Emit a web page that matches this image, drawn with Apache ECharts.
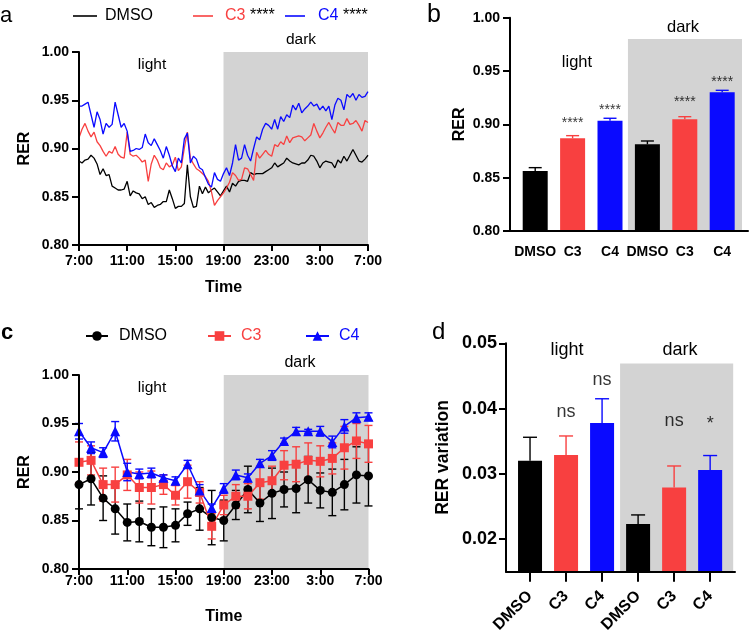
<!DOCTYPE html>
<html><head><meta charset="utf-8">
<script src="https://cdn.jsdelivr.net/npm/echarts@6/dist/echarts.min.js"></script>
<style>html,body{margin:0;padding:0;background:#fff}#chart{width:749px;height:639px}</style>
</head><body><div id="chart"></div>
<script>
// ---------- DATA ----------
const timeTickLabels = ['7:00','11:00','15:00','19:00','23:00','3:00','7:00'];
// panel a: 15-min samples from 7:00 to 7:00 (hours since 7:00)
const timesA = Array.from({length: 97}, (_, i) => i * 0.25);
const dmsoA = [0.887,0.885,0.888,0.889,0.893,0.890,0.884,0.873,0.879,0.872,
0.873,0.861,0.859,0.857,0.857,0.858,0.866,0.851,0.856,0.854,
0.853,0.848,0.850,0.842,0.844,0.839,0.841,0.842,0.845,0.845,
0.857,0.848,0.838,0.840,0.840,0.843,0.883,0.850,0.839,0.840,
0.861,0.853,0.860,0.854,0.857,0.859,0.855,0.851,0.856,0.861,
0.855,0.864,0.861,0.866,0.867,0.867,0.866,0.875,0.873,0.874,
0.874,0.874,0.876,0.878,0.880,0.885,0.881,0.883,0.885,0.890,
0.887,0.885,0.884,0.883,0.885,0.885,0.888,0.893,0.892,0.887,
0.880,0.885,0.887,0.886,0.885,0.880,0.888,0.885,0.892,0.887,
0.893,0.899,0.893,0.887,0.886,0.889,0.893];
const c3A = [0.911,0.920,0.926,0.918,0.912,0.917,0.907,0.903,0.897,0.892,
0.897,0.895,0.902,0.894,0.891,0.890,0.917,0.894,0.892,0.893,
0.890,0.886,0.888,0.866,0.884,0.893,0.888,0.880,0.878,0.885,
0.881,0.883,0.891,0.877,0.881,0.901,0.917,0.890,0.884,0.879,
0.877,0.874,0.871,0.866,0.855,0.841,0.846,0.850,0.854,0.859,
0.865,0.875,0.872,0.867,0.868,0.880,0.879,0.873,0.867,0.896,
0.890,0.894,0.898,0.894,0.892,0.904,0.902,0.907,0.904,0.913,
0.906,0.911,0.912,0.913,0.912,0.908,0.911,0.914,0.926,0.918,
0.911,0.916,0.922,0.927,0.921,0.916,0.927,0.924,0.924,0.931,
0.925,0.926,0.929,0.924,0.918,0.929,0.927];
const c4A = [0.944,0.944,0.946,0.948,0.935,0.922,0.938,0.930,0.915,0.926,
0.922,0.925,0.948,0.935,0.922,0.926,0.918,0.897,0.898,0.900,
0.899,0.901,0.915,0.906,0.903,0.910,0.904,0.898,0.890,0.902,
0.893,0.882,0.876,0.890,0.885,0.910,0.916,0.885,0.892,0.889,
0.880,0.878,0.870,0.863,0.860,0.875,0.868,0.866,0.874,0.880,
0.872,0.885,0.904,0.888,0.890,0.904,0.893,0.887,0.900,0.912,
0.909,0.920,0.926,0.924,0.920,0.930,0.920,0.933,0.928,0.935,
0.932,0.945,0.940,0.947,0.937,0.941,0.944,0.948,0.944,0.946,
0.940,0.944,0.939,0.944,0.930,0.945,0.952,0.950,0.940,0.956,
0.953,0.957,0.950,0.956,0.953,0.954,0.959];

// panel b: mean RER and upper error (SEM)
const catsB = ['DMSO','C3','C4','DMSO','C3','C4'];
const meanB = [0.8563,0.8869,0.9034,0.8813,0.9047,0.9300];
const errB  = [0.0031,0.0025,0.0023,0.0031,0.0025,0.0019];
const sigB  = ['','****','****','','****','****'];
const sigPosB = [0,0.9013,0.9137,0,0.9205,0.9399];

// panel c: hourly means and SEM
const hoursC = [0,1,2,3,4,5,6,7,8,9,10,11,12,13,14,15,16,17,18,19,20,21,22,23,24];
const dmsoC = [0.887,0.893,0.873,0.862,0.848,0.849,0.843,0.843,0.845,0.857,0.862,0.853,0.850,0.866,0.882,0.868,0.878,0.882,0.883,0.892,0.881,0.879,0.887,0.897,0.896];
const dmsoCErr = [0.025,0.027,0.023,0.026,0.019,0.021,0.019,0.021,0.017,0.012,0.022,0.028,0.021,0.015,0.024,0.019,0.026,0.018,0.025,0.024,0.018,0.024,0.026,0.029,0.031];
const c3C = [0.910,0.912,0.887,0.887,0.897,0.884,0.884,0.887,0.876,0.890,0.879,0.844,0.866,0.875,0.875,0.889,0.891,0.907,0.908,0.912,0.911,0.914,0.925,0.932,0.929];
const c3CErr = [0.021,0.015,0.017,0.018,0.016,0.016,0.017,0.010,0.010,0.017,0.011,0.013,0.010,0.012,0.013,0.017,0.015,0.015,0.018,0.018,0.016,0.016,0.022,0.018,0.019];
const c4C = [0.942,0.925,0.920,0.942,0.900,0.898,0.899,0.894,0.891,0.908,0.881,0.863,0.883,0.897,0.894,0.909,0.917,0.932,0.942,0.942,0.942,0.931,0.947,0.956,0.957];
const c4CErr = [0.008,0.006,0.005,0.010,0.009,0.005,0.005,0.003,0.004,0.004,0.006,0.004,0.005,0.005,0.004,0.004,0.005,0.003,0.004,0.002,0.005,0.006,0.007,0.005,0.004];

// panel d: RER variation
const catsD = ['DMSO','C3','C4','DMSO','C3','C4'];
const meanD = [0.0320,0.0329,0.0378,0.0223,0.0279,0.0306];
const errD  = [0.0036,0.0029,0.0037,0.0014,0.0033,0.0022];
const sigD  = ['','ns','ns','','ns','*'];
const sigPosD = [0,0.0395,0.0444,0,0.0381,0.0376];

// ---------- STYLE ----------
const FONT = '"Liberation Sans", Arial, Helvetica, sans-serif';
const BLACK = '#000000', RED = '#f84040', BLUE = '#0a0aff', GRAY = '#d3d3d3';
const groupColors = [BLACK, RED, BLUE, BLACK, RED, BLUE];
const positions = [1,2,3,4,5,6];

const chart = echarts.init(document.getElementById('chart'), null, {renderer: 'canvas'});

function axisLineStyle() { return {show: true, lineStyle: {color: '#000', width: 2}}; }
function tickStyle(len) { return {show: true, length: len, lineStyle: {color: '#000', width: 2}}; }
function boldLabel(size, margin, extra) {
  return Object.assign({color: '#000', fontWeight: 'bold', fontSize: size, fontFamily: FONT, margin: margin}, extra || {});
}
function nameStyle(size) { return {color: '#000', fontWeight: 'bold', fontSize: size, fontFamily: FONT}; }

function timeAxis(gi, margin, nameGap) {
  return {
    gridIndex: gi, type: 'value', min: 0, max: 24, interval: 4, z: 10,
    axisLine: axisLineStyle(), axisTick: tickStyle(6),
    axisLabel: boldLabel(14, margin, {formatter: v => timeTickLabels[Math.round(v / 4)]}),
    splitLine: {show: false},
    name: 'Time', nameLocation: 'middle', nameGap: nameGap, nameTextStyle: nameStyle(16)
  };
}
function rerAxis(gi, nameGap) {
  return {
    gridIndex: gi, type: 'value', min: 0.8, max: 1.0, interval: 0.05, z: 10,
    axisLine: axisLineStyle(), axisTick: tickStyle(7),
    axisLabel: boldLabel(14, 10, {formatter: v => v.toFixed(2)}),
    splitLine: {show: false},
    name: 'RER', nameLocation: 'middle', nameGap: nameGap, nameTextStyle: nameStyle(16)
  };
}

function errRender(colorFn, capW, both) {
  return function (params, api) {
    const x = api.value(0), lo = api.value(1), hi = api.value(2);
    const p1 = api.coord([x, lo]), p2 = api.coord([x, hi]);
    const st = {stroke: colorFn(params.dataIndex), lineWidth: 1.4};
    const ch = [
      {type: 'line', shape: {x1: p1[0], y1: p1[1], x2: p2[0], y2: p2[1]}, style: st},
      {type: 'line', shape: {x1: p2[0] - capW / 2, y1: p2[1], x2: p2[0] + capW / 2, y2: p2[1]}, style: st}
    ];
    if (both) ch.push({type: 'line', shape: {x1: p1[0] - capW / 2, y1: p1[1], x2: p1[0] + capW / 2, y2: p1[1]}, style: st});
    return {type: 'group', children: ch};
  };
}

function legendItem(name, left, top, itemW, color, padLeft, rich, lineOnly) {
  const l = {
    left: left, top: top, orient: 'horizontal', padding: 0, itemWidth: itemW, itemHeight: lineOnly ? 1.6 : 12, itemGap: 0,
    data: [name], selectedMode: false,
    formatter: rich ? (n => n.trim() + ' {s|****}') : (n => n.trim()),
    textStyle: {color: color, fontSize: 16, fontFamily: FONT, padding: [0, 0, 0, padLeft],
      rich: {s: {color: '#000', fontSize: 16, fontFamily: FONT}}}
  };
  if (lineOnly) l.icon = 'rect';
  return l;
}

function txt(x, y, text, size, align, bold) {
  return {type: 'text', x: x, y: y, silent: true,
    style: {text: text, fill: '#000', font: (bold ? 'bold ' : '') + size + 'px ' + FONT,
      textAlign: align, align: align, textVerticalAlign: 'middle', verticalAlign: 'middle'}};
}

const option = {
  animation: false,
  backgroundColor: '#fff',
  grid: [
    {left: 79, top: 52, width: 289, height: 193, outerBoundsMode: 'none'},
    {left: 510, top: 17.7, width: 238, height: 213.3, outerBoundsMode: 'none'},
    {left: 79, top: 375, width: 289.5, height: 194, outerBoundsMode: 'none'},
    {left: 506, top: 343.3, width: 229, height: 228.4, outerBoundsMode: 'none'}
  ],
  xAxis: [
    timeAxis(0, 9, 35),
    {gridIndex: 1, type: 'value', min: 0.326, max: 6.69, z: 10,
      axisLine: axisLineStyle(), axisTick: {show: false},
      axisLabel: boldLabel(14, 14, {customValues: positions, formatter: v => catsB[Math.round(v) - 1]}),
      splitLine: {show: false}},
    timeAxis(2, 5, 40),
    {gridIndex: 3, type: 'value', min: 0.333, max: 6.69, z: 10,
      axisLine: axisLineStyle(), axisTick: Object.assign(tickStyle(10), {customValues: positions}),
      axisLabel: boldLabel(16, 22, {customValues: positions, rotate: 45, formatter: v => catsD[Math.round(v) - 1]}),
      splitLine: {show: false}}
  ],
  yAxis: [
    rerAxis(0, 46),
    rerAxis(1, 42),
    rerAxis(2, 46),
    {gridIndex: 3, type: 'value', min: 0.015, max: 0.05, z: 10,
      axisLine: axisLineStyle(), axisTick: Object.assign(tickStyle(7), {customValues: [0.02, 0.03, 0.04, 0.05]}),
      axisLabel: boldLabel(18, 9, {customValues: [0.02, 0.03, 0.04, 0.05], formatter: v => v.toFixed(2)}),
      splitLine: {show: false},
      name: 'RER variation', nameLocation: 'middle', nameGap: 54, nameTextStyle: nameStyle(17.5)}
  ],
  legend: [
    legendItem('DMSO', 73, 8, 24, BLACK, 3, false, true),
    legendItem('C3', 193, 8, 20, RED, 7, true, true),
    legendItem('C4', 285, 8, 20, BLUE, 8, true, true),
    legendItem('DMSO ', 85, 328, 22, BLACK, 6, false, false),
    legendItem('C3 ', 207, 328, 23, RED, 5, false, false),
    legendItem('C4 ', 305, 328, 23, BLUE, 5, false, false)
  ],
  graphic: [
    txt(0, 16, 'a', 22, 'left', false),
    txt(427, 15, 'b', 25, 'left', false),
    txt(1, 333, 'c', 22, 'left', true),
    txt(432, 332, 'd', 24, 'left', false),
    txt(152, 65, 'light', 15.5, 'center'),
    txt(301, 40, 'dark', 15.5, 'center'),
    txt(577, 62, 'light', 16.5, 'center'),
    txt(683, 27, 'dark', 16.5, 'center'),
    txt(152, 388, 'light', 15.5, 'center'),
    txt(300, 363, 'dark', 16, 'center'),
    txt(567, 350, 'light', 18, 'center'),
    txt(680, 350, 'dark', 18, 'center')
  ],
  series: [
    // ----- panel a -----
    {name: 'DMSO', type: 'line', xAxisIndex: 0, yAxisIndex: 0, symbol: 'none',
      data: timesA.map((t, i) => [t, dmsoA[i]]), color: BLACK, lineStyle: {color: BLACK, width: 1.3},
      markArea: {silent: true, itemStyle: {color: GRAY}, label: {show: false},
        data: [[{xAxis: 12, yAxis: 0.8}, {xAxis: 24, yAxis: 1.0}]]}},
    {name: 'C3', type: 'line', xAxisIndex: 0, yAxisIndex: 0, symbol: 'none',
      data: timesA.map((t, i) => [t, c3A[i]]), color: RED, lineStyle: {color: RED, width: 1.3}},
    {name: 'C4', type: 'line', xAxisIndex: 0, yAxisIndex: 0, symbol: 'none',
      data: timesA.map((t, i) => [t, c4A[i]]), color: BLUE, lineStyle: {color: BLUE, width: 1.3}},
    // ----- panel b -----
    {name: 'barsB', type: 'bar', xAxisIndex: 1, yAxisIndex: 1, barWidth: 25,
      data: meanB.map((v, i) => ({value: [positions[i], v], itemStyle: {color: groupColors[i]}})),
      markArea: {silent: true, itemStyle: {color: GRAY}, label: {show: false},
        data: [[{xAxis: 3.48, yAxis: 0.8}, {xAxis: 6.53, yAxis: 0.98}]]}},
    {name: 'errB', type: 'custom', xAxisIndex: 1, yAxisIndex: 1,
      renderItem: errRender(i => groupColors[i], 13, false),
      encode: {x: 0, y: [1, 2]},
      data: meanB.map((v, i) => [positions[i], v, v + errB[i]])},
    {name: 'sigB', type: 'scatter', xAxisIndex: 1, yAxisIndex: 1, symbolSize: 0, silent: true,
      data: sigB.map((s, i) => [positions[i], sigPosB[i], s]).filter(d => d[2]),
      label: {show: true, position: 'inside', formatter: p => p.data[2], color: '#000', fontSize: 14, fontFamily: FONT}},
    // ----- panel c -----
    {name: 'errDMSO', type: 'custom', xAxisIndex: 2, yAxisIndex: 2,
      renderItem: errRender(() => BLACK, 8, true), encode: {x: 0, y: [1, 2]},
      data: hoursC.map((h, i) => [h, dmsoC[i] - dmsoCErr[i], dmsoC[i] + dmsoCErr[i]])},
    {name: 'errC3', type: 'custom', xAxisIndex: 2, yAxisIndex: 2,
      renderItem: errRender(() => RED, 8, true), encode: {x: 0, y: [1, 2]},
      data: hoursC.map((h, i) => [h, c3C[i] - c3CErr[i], c3C[i] + c3CErr[i]])},
    {name: 'errC4', type: 'custom', xAxisIndex: 2, yAxisIndex: 2,
      renderItem: errRender(() => BLUE, 8, true), encode: {x: 0, y: [1, 2]},
      data: hoursC.map((h, i) => [h, c4C[i] - c4CErr[i], c4C[i] + c4CErr[i]])},
    {name: 'DMSO ', type: 'line', xAxisIndex: 2, yAxisIndex: 2, symbol: 'circle', symbolSize: 9,
      data: hoursC.map((h, i) => [h, dmsoC[i]]), color: BLACK,
      itemStyle: {color: BLACK}, lineStyle: {color: BLACK, width: 1.5},
      markArea: {silent: true, itemStyle: {color: GRAY}, label: {show: false},
        data: [[{xAxis: 12, yAxis: 0.8}, {xAxis: 24, yAxis: 1.0}]]}},
    {name: 'C3 ', type: 'line', xAxisIndex: 2, yAxisIndex: 2, symbol: 'rect', symbolSize: 9,
      data: hoursC.map((h, i) => [h, c3C[i]]), color: RED,
      itemStyle: {color: RED}, lineStyle: {color: RED, width: 1.5}},
    {name: 'C4 ', type: 'line', xAxisIndex: 2, yAxisIndex: 2, symbol: 'triangle', symbolSize: 10,
      data: hoursC.map((h, i) => [h, c4C[i]]), color: BLUE,
      itemStyle: {color: BLUE}, lineStyle: {color: BLUE, width: 1.5}},
    // ----- panel d -----
    {name: 'barsD', type: 'bar', xAxisIndex: 3, yAxisIndex: 3, barWidth: 24,
      data: meanD.map((v, i) => ({value: [positions[i], v], itemStyle: {color: groupColors[i]}})),
      markArea: {silent: true, itemStyle: {color: GRAY}, label: {show: false},
        data: [[{xAxis: 3.5, yAxis: 0.015}, {xAxis: 6.64, yAxis: 0.0469}]]}},
    {name: 'errD', type: 'custom', xAxisIndex: 3, yAxisIndex: 3,
      renderItem: errRender(i => groupColors[i], 14, false),
      encode: {x: 0, y: [1, 2]},
      data: meanD.map((v, i) => [positions[i], v, v + errD[i]])},
    {name: 'sigD', type: 'scatter', xAxisIndex: 3, yAxisIndex: 3, symbolSize: 0, silent: true,
      data: sigD.map((s, i) => [positions[i], sigPosD[i], s]).filter(d => d[2]),
      label: {show: true, position: 'inside', formatter: p => p.data[2], color: '#000', fontSize: 18, fontFamily: FONT}}
  ]
};
chart.setOption(option);
</script></body></html>
